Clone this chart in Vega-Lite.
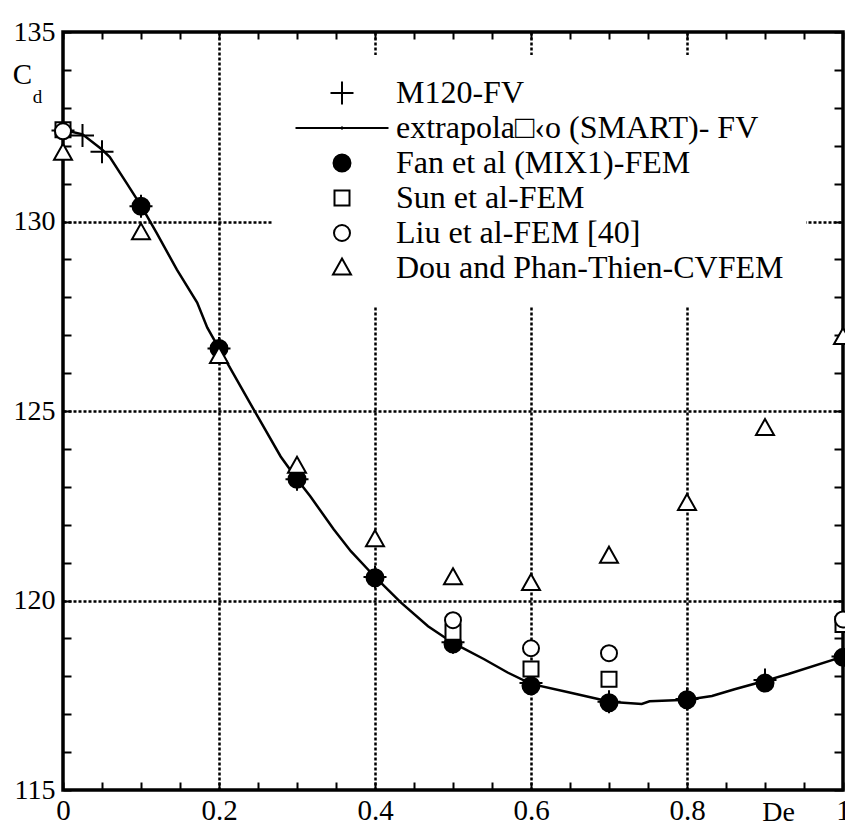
{
  "$schema": "https://vega.github.io/schema/vega-lite/v6.json",
  "width": 780,
  "height": 758,
  "autosize": {"type": "none"},
  "padding": {"left": 63, "top": 32, "right": 2, "bottom": 38},
  "background": "white",
  "config": {
    "view": {"stroke": "black", "strokeWidth": 3.5},
    "axis": {
      "labelFont": "Liberation Serif", "labelFontSize": 28, "labelColor": "black",
      "titleFont": "Liberation Serif", "titleColor": "black", "titleFontWeight": "normal",
      "tickColor": "black", "tickWidth": 2, "domain": false,
      "gridColor": "black", "gridWidth": 2.5, "gridDash": [3, 2],
      "labelOverlap": false, "labelFlush": false
    },
    "legend": {
      "orient": "none", "legendX": 210, "legendY": 23,
      "fillColor": "white", "padding": 22, "strokeColor": null,
      "labelFont": "Liberation Serif", "labelFontSize": 32, "labelColor": "black",
      "labelLimit": 800, "labelOffset": 38, "labelBaseline": "middle",
      "clipHeight": 32, "rowPadding": 3,
      "symbolSize": 400, "symbolOffset": 31,
      "symbolStrokeColor": "black", "symbolStrokeWidth": 2, "symbolOpacity": 1
    }
  },
  "datasets": {
    "line": [
      {"De": 0, "Cd": 132.42}, {"De": 0.025, "Cd": 132.3}, {"De": 0.05, "Cd": 131.9},
      {"De": 0.06, "Cd": 131.7}, {"De": 0.082, "Cd": 131.0}, {"De": 0.1, "Cd": 130.42},
      {"De": 0.12, "Cd": 129.7}, {"De": 0.146, "Cd": 128.73}, {"De": 0.172, "Cd": 127.86},
      {"De": 0.185, "Cd": 127.2}, {"De": 0.2, "Cd": 126.65}, {"De": 0.24, "Cd": 125.2},
      {"De": 0.279, "Cd": 123.8}, {"De": 0.3, "Cd": 123.2}, {"De": 0.317, "Cd": 122.75},
      {"De": 0.347, "Cd": 121.88}, {"De": 0.369, "Cd": 121.3}, {"De": 0.4, "Cd": 120.62},
      {"De": 0.433, "Cd": 119.95}, {"De": 0.468, "Cd": 119.32}, {"De": 0.5, "Cd": 118.88},
      {"De": 0.54, "Cd": 118.45}, {"De": 0.57, "Cd": 118.1}, {"De": 0.6, "Cd": 117.8},
      {"De": 0.648, "Cd": 117.58}, {"De": 0.686, "Cd": 117.4}, {"De": 0.7, "Cd": 117.33},
      {"De": 0.742, "Cd": 117.27}, {"De": 0.752, "Cd": 117.34}, {"De": 0.8, "Cd": 117.38},
      {"De": 0.832, "Cd": 117.48}, {"De": 0.861, "Cd": 117.66}, {"De": 0.9, "Cd": 117.88},
      {"De": 0.93, "Cd": 118.06}, {"De": 1.0, "Cd": 118.52}
    ],
    "pts": [
      {"series": "M120-FV", "De": 0, "Cd": 132.4},
      {"series": "M120-FV", "De": 0.025, "Cd": 132.27},
      {"series": "M120-FV", "De": 0.05, "Cd": 131.84},
      {"series": "M120-FV", "De": 0.1, "Cd": 130.4},
      {"series": "M120-FV", "De": 0.2, "Cd": 126.65},
      {"series": "M120-FV", "De": 0.3, "Cd": 123.2},
      {"series": "M120-FV", "De": 0.4, "Cd": 120.62},
      {"series": "M120-FV", "De": 0.5, "Cd": 118.9},
      {"series": "M120-FV", "De": 0.6, "Cd": 117.82},
      {"series": "M120-FV", "De": 0.7, "Cd": 117.33},
      {"series": "M120-FV", "De": 0.8, "Cd": 117.4},
      {"series": "M120-FV", "De": 0.9, "Cd": 117.9},
      {"series": "M120-FV", "De": 1.0, "Cd": 118.52},
      {"series": "Fan et al (MIX1)-FEM", "De": 0.1, "Cd": 130.4},
      {"series": "Fan et al (MIX1)-FEM", "De": 0.2, "Cd": 126.65},
      {"series": "Fan et al (MIX1)-FEM", "De": 0.3, "Cd": 123.2},
      {"series": "Fan et al (MIX1)-FEM", "De": 0.4, "Cd": 120.6},
      {"series": "Fan et al (MIX1)-FEM", "De": 0.5, "Cd": 118.85},
      {"series": "Fan et al (MIX1)-FEM", "De": 0.6, "Cd": 117.75},
      {"series": "Fan et al (MIX1)-FEM", "De": 0.7, "Cd": 117.3},
      {"series": "Fan et al (MIX1)-FEM", "De": 0.8, "Cd": 117.38},
      {"series": "Fan et al (MIX1)-FEM", "De": 0.9, "Cd": 117.82},
      {"series": "Fan et al (MIX1)-FEM", "De": 1.0, "Cd": 118.5},
      {"series": "Sun et al-FEM", "De": 0, "Cd": 132.42},
      {"series": "Sun et al-FEM", "De": 0.5, "Cd": 119.16},
      {"series": "Sun et al-FEM", "De": 0.6, "Cd": 118.19},
      {"series": "Sun et al-FEM", "De": 0.7, "Cd": 117.92},
      {"series": "Sun et al-FEM", "De": 1.0, "Cd": 119.37},
      {"series": "Liu et al-FEM [40]", "De": 0, "Cd": 132.38},
      {"series": "Liu et al-FEM [40]", "De": 0.5, "Cd": 119.48},
      {"series": "Liu et al-FEM [40]", "De": 0.6, "Cd": 118.74},
      {"series": "Liu et al-FEM [40]", "De": 0.7, "Cd": 118.61},
      {"series": "Liu et al-FEM [40]", "De": 1.0, "Cd": 119.5},
      {"series": "Dou and Phan-Thien-CVFEM", "De": 0, "Cd": 131.8},
      {"series": "Dou and Phan-Thien-CVFEM", "De": 0.1, "Cd": 129.7},
      {"series": "Dou and Phan-Thien-CVFEM", "De": 0.2, "Cd": 126.44},
      {"series": "Dou and Phan-Thien-CVFEM", "De": 0.3, "Cd": 123.54},
      {"series": "Dou and Phan-Thien-CVFEM", "De": 0.4, "Cd": 121.6},
      {"series": "Dou and Phan-Thien-CVFEM", "De": 0.5, "Cd": 120.6},
      {"series": "Dou and Phan-Thien-CVFEM", "De": 0.6, "Cd": 120.45},
      {"series": "Dou and Phan-Thien-CVFEM", "De": 0.7, "Cd": 121.17},
      {"series": "Dou and Phan-Thien-CVFEM", "De": 0.8, "Cd": 122.56},
      {"series": "Dou and Phan-Thien-CVFEM", "De": 0.9, "Cd": 124.54},
      {"series": "Dou and Phan-Thien-CVFEM", "De": 1.0, "Cd": 126.94}
    ]
  },
  "layer": [
    {
      "data": {"name": "line"},
      "mark": {"type": "line", "color": "black", "strokeWidth": 2.5},
      "encoding": {
        "x": {
          "field": "De", "type": "quantitative",
          "scale": {"domain": [0, 1], "nice": false, "zero": false},
          "axis": {
            "orient": "bottom",
            "values": [0, 0.05, 0.1, 0.15, 0.2, 0.25, 0.3, 0.35, 0.4, 0.45, 0.5, 0.55, 0.6, 0.65, 0.7, 0.75, 0.8, 0.85, 0.9, 0.95, 1],
            "labelExpr": "indexof([0,0.2,0.4,0.6,0.8,1], datum.value) >= 0 ? (datum.value == 0 ? '0' : datum.value == 1 ? '1' : format(datum.value, '.1f')) : ''",
            "labelFontSize": 29,
            "tickSize": -8, "labelPadding": 14,
            "grid": true,
            "gridOpacity": {"condition": {"test": "indexof([0.2,0.4,0.6,0.8], datum.value) >= 0", "value": 1}, "value": 0},
            "title": "De", "titleFontSize": 28, "titleX": 715, "titleY": 22,
            "titleAlign": "center", "titleBaseline": "middle", "titleAngle": 0
          }
        },
        "y": {
          "field": "Cd", "type": "quantitative",
          "scale": {"domain": [115, 135], "nice": false, "zero": false},
          "axis": {
            "orient": "left",
            "values": [115, 116, 117, 118, 119, 120, 121, 122, 123, 124, 125, 126, 127, 128, 129, 130, 131, 132, 133, 134, 135],
            "labelExpr": "datum.value % 5 == 0 ? datum.label : ''",
            "tickSize": -8, "labelPadding": 16,
            "grid": true,
            "gridOpacity": {"condition": {"test": "datum.value % 5 == 0 && datum.value > 115 && datum.value < 135", "value": 1}, "value": 0},
            "title": "C", "titleFontSize": 29, "titleX": -41, "titleY": 42,
            "titleAlign": "center", "titleBaseline": "middle", "titleAngle": 0
          }
        }
      }
    },
    {
      "data": {"name": "pts"},
      "mark": {"type": "point", "stroke": "black", "strokeWidth": 2, "opacity": 1, "filled": false, "size": 400},
      "encoding": {
        "x": {
          "field": "De", "type": "quantitative",
          "axis": {
            "orient": "top",
            "values": [0, 0.05, 0.1, 0.15, 0.2, 0.25, 0.3, 0.35, 0.4, 0.45, 0.5, 0.55, 0.6, 0.65, 0.7, 0.75, 0.8, 0.85, 0.9, 0.95, 1],
            "labels": false, "tickSize": -7, "grid": false, "title": null
          }
        },
        "y": {
          "field": "Cd", "type": "quantitative",
          "axis": {
            "orient": "right",
            "values": [115, 116, 117, 118, 119, 120, 121, 122, 123, 124, 125, 126, 127, 128, 129, 130, 131, 132, 133, 134, 135],
            "labels": false, "tickSize": -9, "grid": false,
            "title": "d", "titleFontSize": 19, "titleX": -806, "titleY": 64,
            "titleAlign": "center", "titleBaseline": "middle", "titleAngle": 0
          }
        },
        "shape": {
          "field": "series", "type": "nominal",
          "scale": {
            "domain": ["M120-FV", "extrapola□‹o (SMART)- FV", "Fan et al (MIX1)-FEM", "Sun et al-FEM", "Liu et al-FEM [40]", "Dou and Phan-Thien-CVFEM"],
            "range": [
              "M-1.15,0H1.15M0,-1.15V1.15",
              "M-4.65,0H4.65M0,-0.15V0.15",
              "M-0.85,0A0.85,0.85 0 1,0 0.85,0A0.85,0.85 0 1,0 -0.85,0Z",
              "M-0.75,-0.75H0.75V0.75H-0.75Z",
              "M-0.8,0A0.8,0.8 0 1,0 0.8,0A0.8,0.8 0 1,0 -0.8,0Z",
              "M0,-0.95L0.9,0.65H-0.9Z"
            ]
          },
          "legend": {
            "title": null,
            "encode": {"symbols": {"update": {"stroke": {"value": "black"}, "strokeWidth": {"value": 2}, "opacity": {"value": 1}}}}
          }
        },
        "fill": {
          "field": "series", "type": "nominal",
          "scale": {
            "domain": ["M120-FV", "extrapola□‹o (SMART)- FV", "Fan et al (MIX1)-FEM", "Sun et al-FEM", "Liu et al-FEM [40]", "Dou and Phan-Thien-CVFEM"],
            "range": ["transparent", "transparent", "black", "white", "white", "white"]
          },
          "legend": {
            "title": null,
            "encode": {"symbols": {"update": {"stroke": {"value": "black"}, "strokeWidth": {"value": 2}, "opacity": {"value": 1}}}}
          }
        }
      }
    }
  ],
  "resolve": {"axis": {"x": "independent", "y": "independent"}}
}
